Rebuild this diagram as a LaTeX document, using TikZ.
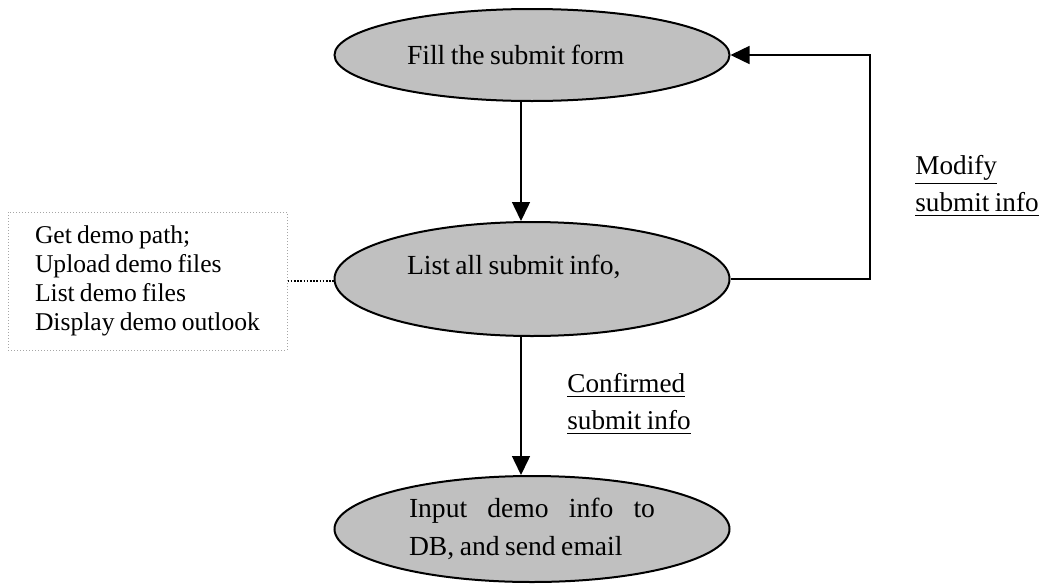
\documentclass[tikz,border=0pt]{standalone}
\usepackage{fontspec}
\setmainfont{Liberation Serif}[WordSpace=0.8]
\usetikzlibrary{shapes.geometric, arrows.meta}
\definecolor{silver}{HTML}{C0C0C0}
\tikzstyle{action} = [ellipse, draw=black, line width=1pt, fill=silver, inner sep=0pt, minimum width=197.5pt, font=\fontsize{13.8}{19}\selectfont]
\tikzstyle{note} = [rectangle, draw=black!35, line width=0.5pt, dash pattern=on 0.5pt off 1pt, minimum width=139.5pt, minimum height=69pt, align=left, font=\fontsize{12.8}{14.6}\selectfont]
\tikzstyle{arrow} = [line width=0.75pt, -{Triangle[length=9.5pt, width=9pt]}]
\tikzstyle{link} = [line width=0.8pt, dash pattern=on 0.8pt off 0.8pt]
\tikzstyle{flowlabel} = [inner sep=0pt, align=left, font=\fontsize{13.6}{18.5}\selectfont]

\begin{document}
\begin{tikzpicture}[x=0.5pt, y=-0.5pt]
\useasboundingbox (0,0) rectangle (1044,584);

% Nodes
\node (fill) [action, minimum height=46pt, text width=125pt, align=flush left] at (532,55) {Fill the submit form};
\node (list) [action, node distance=112pt, below of=fill, minimum height=57pt, text width=125pt, align=flush left, text depth=14pt] {List all submit info,};
\node (store) [action, node distance=125pt, below of=list, minimum height=53pt, text width=123pt, align=justify] {Input demo info to\linebreak DB, and send email};
\node (tasks) [note] at (147.5,281) {Get demo path;\\ Upload demo files\\ List demo files\\ Display demo outlook};

% Labels
\node (modify) [flowlabel, anchor=west] at (915,186) {\underline{Modify}\\ \underline{submit info}};
\node (confirm) [flowlabel, anchor=west] at (567,404) {\underline{Confirmed}\\ \underline{submit info}};

% Arrows
\coordinate (back) at (870,55);
\draw [arrow] ([xshift=-5.5pt]fill.south) -- ([xshift=-5.5pt]list.north);
\draw [arrow] ([xshift=-5.5pt]list.south) -- ([xshift=-5.5pt]store.north);
\draw [arrow] (list.east) -| (back) -- (fill.east);
\draw [link] (tasks.east) -- (tasks.east -| list.west);

\end{tikzpicture}
\end{document}
